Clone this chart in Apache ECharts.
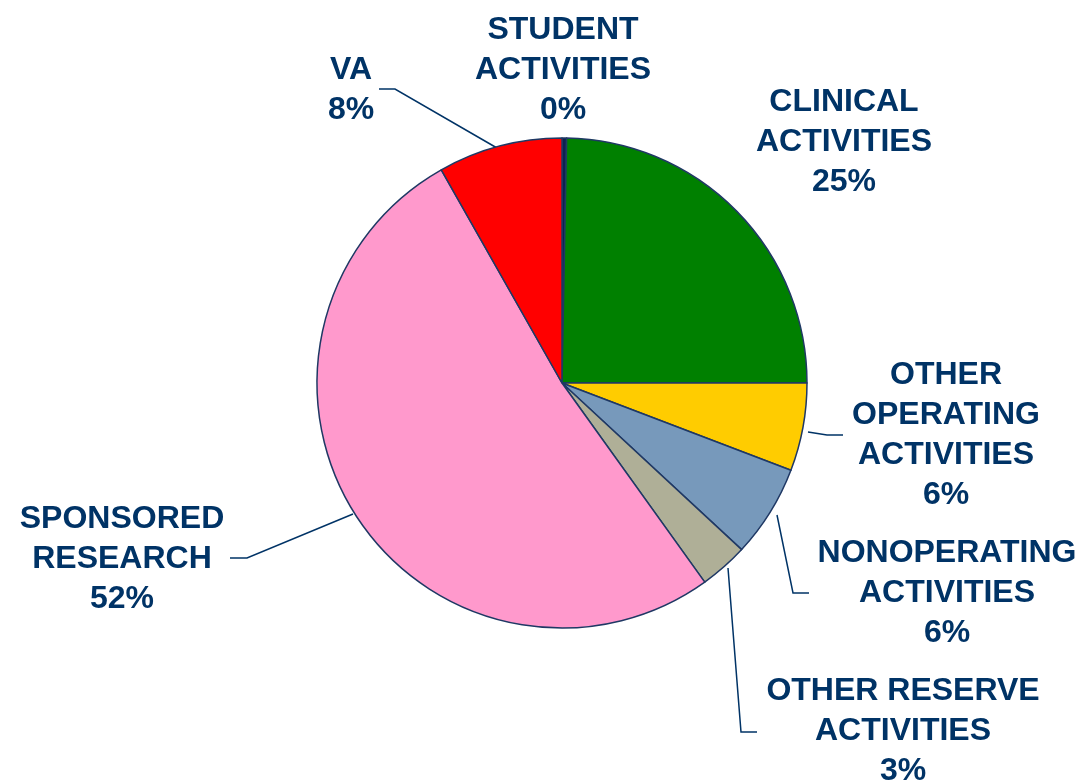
<!DOCTYPE html>
<html>
<head>
<meta charset="utf-8">
<script src="https://cdn.jsdelivr.net/npm/echarts@6/dist/echarts.min.js"></script>
<style>
  html, body { margin: 0; padding: 0; background: #fff; }
  #pieChart { width: 1082px; height: 783px; }
</style>
</head>
<body>
<div id="pieChart"></div>
<script>
// slice data, clockwise from 12 o'clock
const categories = [
  "STUDENT\nACTIVITIES",
  "CLINICAL\nACTIVITIES",
  "OTHER\nOPERATING\nACTIVITIES",
  "NONOPERATING\nACTIVITIES",
  "OTHER RESERVE\nACTIVITIES",
  "SPONSORED\nRESEARCH",
  "VA"
];
const shares = [0.3, 24.7, 5.8, 6.1, 3.2, 51.7, 8.2];
const colors = ["#0d2250", "#008000", "#ffcc00", "#7799bb", "#afaf97", "#ff99cc", "#ff0000"];

// label placement (centre of text block) and leader lines
const labelPos = [
  [563, 70], [844, 142], [946, 435], [947, 593], [903, 731], [122, 559], [351, 90]
];
const leaderLines = [
  null,
  null,
  [[808, 432], [827, 435], [843, 435]],
  [[777, 515], [793, 593], [809, 593]],
  [[728, 568], [741, 732], [757, 732]],
  [[353, 514], [247, 558], [230, 558]],
  [[497, 148], [395, 89], [379, 89]]
];

const navy = "#003366";

function renderPie() {
  const chart = echarts.init(document.getElementById("pieChart"));

  const option = {
    animation: false,
    series: [
      {
        type: "pie",
        center: [562, 383],
        radius: 245,
        startAngle: 90,
        clockwise: true,
        percentPrecision: 0,
        data: categories.map((name, i) => ({
          name: name,
          value: shares[i],
          itemStyle: { color: colors[i] },
          labelLine: { show: leaderLines[i] !== null }
        })),
        itemStyle: {
          borderColor: "#1f3864",
          borderWidth: 1.5
        },
        label: {
          show: true,
          formatter: "{b}\n{d}%",
          color: navy,
          fontFamily: "Liberation Sans, Arial, sans-serif",
          fontWeight: "bold",
          fontSize: 32,
          lineHeight: 40,
          align: "center",
          overflow: "none",
          width: 400
        },
        labelLine: {
          show: true,
          lineStyle: { color: navy, width: 1.5 }
        },
        labelLayout: (params) => {
          const i = params.dataIndex;
          const out = {
            x: labelPos[i][0],
            y: labelPos[i][1],
            align: "center",
            verticalAlign: "middle"
          };
          if (leaderLines[i]) out.labelLinePoints = leaderLines[i];
          return out;
        },
        emphasis: { disabled: true }
      }
    ]
  };

  chart.setOption(option);
  window.addEventListener("resize", () => chart.resize());
}

renderPie();
</script>
</body>
</html>
